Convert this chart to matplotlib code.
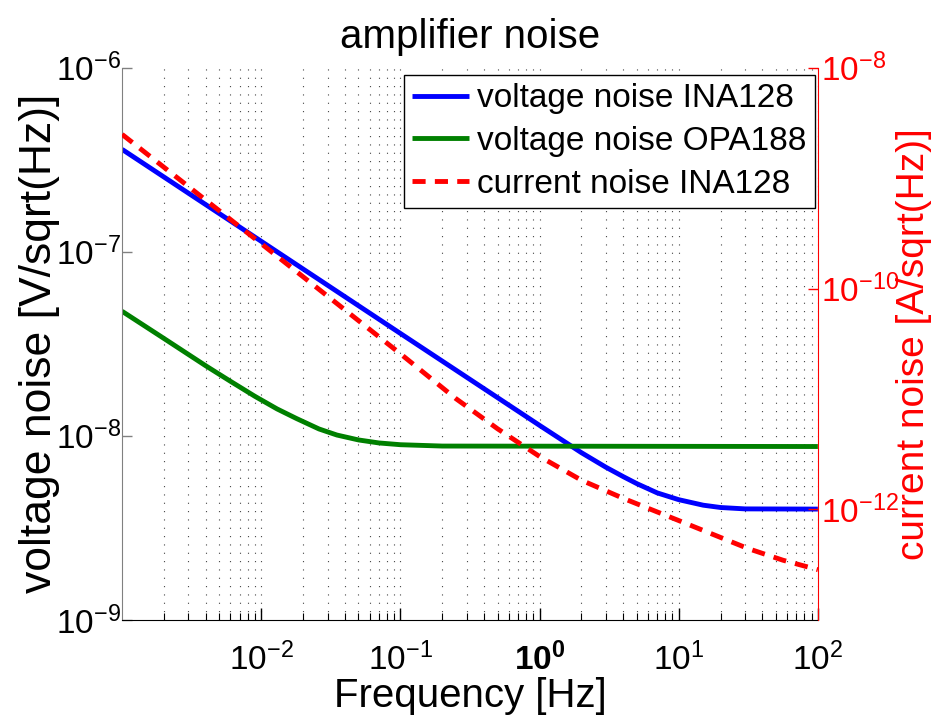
import matplotlib
matplotlib.use("Agg")
import matplotlib.pyplot as plt
from matplotlib.ticker import LogLocator, NullLocator, FixedLocator, FixedFormatter

plt.rcParams['font.family'] = ['Liberation Sans', 'DejaVu Sans']
plt.rcParams['mathtext.fontset'] = 'custom'
plt.rcParams['mathtext.rm'] = 'Liberation Sans'
plt.rcParams['mathtext.it'] = 'Liberation Sans:italic'
plt.rcParams['mathtext.bf'] = 'Liberation Sans:bold'

# values
freq_ina_v = [1e-3, 1e-2, 1e-1, 1.0, 2.0, 3.0, 4.0, 5.0, 7.0, 10.0, 15.0, 20.0, 30.0, 100]
vnoise_ina = [3.6e-7, 1.14e-7, 3.6e-8, 1.14e-8, 8.1e-9, 6.75e-9, 6.0e-9, 5.5e-9, 4.9e-9,
              4.5e-9, 4.2e-9, 4.08e-9, 4.01e-9, 4.0e-9]

freq_opa_v = [1e-3, 2e-3, 4e-3, 6e-3, 9e-3, 0.013, 0.018, 0.026, 0.035, 0.05, 0.07, 0.1, 0.2, 100]
vnoise_opa = [4.75e-8, 3.38e-8, 2.4e-8, 1.98e-8, 1.64e-8, 1.40e-8, 1.24e-8, 1.09e-8,
              1.01e-8, 9.5e-9, 9.15e-9, 8.95e-9, 8.8e-9, 8.75e-9]

freq_ina_i = [1e-3, 1e-2, 0.1, 0.25, 0.5, 1.0, 2.0, 4.0, 10.0, 17.8, 31.6, 56.2, 100]
inoise_ina = [2.49e-9, 2.55e-10, 2.57e-11, 1.01e-11, 5.37e-12, 3.02e-12, 1.84e-12,
              1.26e-12, 7.94e-13, 5.92e-13, 4.42e-13, 3.47e-13, 2.85e-13]

xtick_vals = [1e-2, 1e-1, 1e0, 1e1, 1e2]
xtick_labels = [r'$10^{-2}$', r'$10^{-1}$', r'$\mathbf{10^{0}}$', r'$10^{1}$', r'$10^{2}$']
ytick_left = [1e-9, 1e-8, 1e-7, 1e-6]
ytick_left_labels = [r'$10^{-9}$', r'$10^{-8}$', r'$10^{-7}$', r'$10^{-6}$']
ytick_right = [1e-12, 1e-10, 1e-8]
ytick_right_labels = [r'$10^{-12}$', r'$10^{-10}$', r'$10^{-8}$']

fig = plt.figure(figsize=(9.39, 7.2), dpi=100)
ax = fig.add_axes([0.130, 0.139, 0.741, 0.767])
ax2 = ax.twinx()

l1, = ax.loglog(freq_ina_v, vnoise_ina, color='#0000ff', lw=3.5, solid_capstyle='butt')
l2, = ax.loglog(freq_opa_v, vnoise_opa, color='#008000', lw=3.5, solid_capstyle='butt')
l3, = ax2.loglog(freq_ina_i, inoise_ina, color='#ff0000', lw=3.5, dashes=(2.7, 1.9))

ax.set_xlim(1e-3, 1e2)
ax.set_ylim(1e-9, 1e-6)
ax2.set_ylim(1e-13, 1e-8)

ax.xaxis.set_major_locator(FixedLocator(xtick_vals))
ax.xaxis.set_major_formatter(FixedFormatter(xtick_labels))
ax.xaxis.set_minor_locator(LogLocator(base=10, subs=range(2, 10), numticks=20))
ax.yaxis.set_major_locator(FixedLocator(ytick_left))
ax.yaxis.set_major_formatter(FixedFormatter(ytick_left_labels))
ax.yaxis.set_minor_locator(NullLocator())
ax2.yaxis.set_major_locator(FixedLocator(ytick_right))
ax2.yaxis.set_major_formatter(FixedFormatter(ytick_right_labels))
ax2.yaxis.set_minor_locator(NullLocator())

ax.grid(True, which='both', axis='x', color='#444444', lw=0.8, dashes=(1, 6.5))
ax.set_axisbelow(True)

ax.tick_params(axis='x', which='major', direction='in', length=9, width=1, labelsize=24, pad=16)
ax.tick_params(axis='x', which='minor', direction='in', length=5, width=0.8)
ax.tick_params(axis='y', which='major', direction='in', length=7, width=1, labelsize=24,
               pad=1, color='#808080', left=True, right=False)
ax2.tick_params(axis='y', which='major', direction='in', length=7, width=1, labelsize=24,
                pad=2, colors='#ff0000')

for s in ['top', 'right']:
    ax.spines[s].set_visible(False)
ax.spines['left'].set_color('#808080')
ax.spines['bottom'].set_color('black')
for s in ['top', 'left', 'bottom']:
    ax2.spines[s].set_visible(False)
ax2.spines['right'].set_color('#ff0000')

ax.set_xlabel('Frequency [Hz]', fontsize=29, labelpad=0)
ax.set_ylabel('voltage noise [V/sqrt(Hz)]', fontsize=32)
ax.yaxis.set_label_coords(-0.089, 0.5)
ax2.set_ylabel('current noise [A/sqrt(Hz)]', fontsize=28, color='#ff0000')
ax2.yaxis.set_label_coords(1.113, 0.5)
ax.set_title('amplifier noise', fontsize=29, pad=14)

leg = ax2.legend([l1, l2, l3], ['voltage noise INA128', 'voltage noise OPA188', 'current noise INA128'],
                 loc='upper right', bbox_to_anchor=(0.996, 0.987), fontsize=24, frameon=True,
                 fancybox=False, edgecolor='black', framealpha=1, handlelength=1.7,
                 handletextpad=0.25, labelspacing=0.35, borderpad=0.25, borderaxespad=0)
leg.get_frame().set_linewidth(1.0)

fig.savefig('out.png', dpi=100)
